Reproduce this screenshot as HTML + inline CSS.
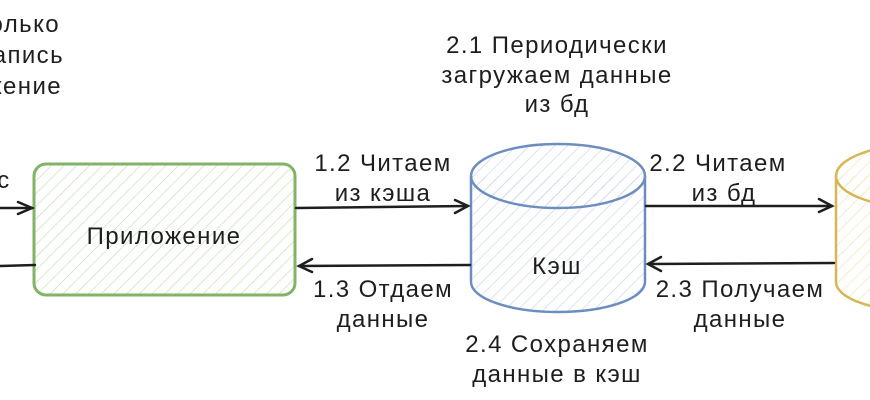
<!DOCTYPE html>
<html><head><meta charset="utf-8"><style>
html,body{margin:0;padding:0;background:#fff;}
svg{display:block;}
text{font-family:"Liberation Sans","DejaVu Sans",sans-serif;font-size:24px;letter-spacing:1.4px;fill:#1e1e1e;text-anchor:middle;}
</style></head><body>
<svg width="870" height="400" viewBox="0 0 870 400" xmlns="http://www.w3.org/2000/svg">
<defs>
<pattern id="hg" width="9" height="9" patternUnits="userSpaceOnUse" patternTransform="rotate(45)">
<line x1="0" y1="0" x2="0" y2="9" stroke="#b9e0a5" stroke-width="1.2"/></pattern>
<pattern id="hb" width="9" height="9" patternUnits="userSpaceOnUse" patternTransform="rotate(45)">
<line x1="0" y1="0" x2="0" y2="9" stroke="#c3d0ec" stroke-width="1.2"/></pattern>
<pattern id="hy" width="9" height="9" patternUnits="userSpaceOnUse" patternTransform="rotate(45)">
<line x1="0" y1="0" x2="0" y2="9" stroke="#f3dfa8" stroke-width="1.2"/></pattern>
</defs>
<text x="60" y="32" style="text-anchor:end">Только</text>
<text x="64" y="63" style="text-anchor:end">запись</text>
<text x="62" y="94" style="text-anchor:end">Изжение</text>
<text x="4" y="188">с</text>
<rect x="34" y="164" width="261" height="131" rx="12" fill="url(#hg)" stroke="#82b366" stroke-width="3"/>
<text x="164" y="244">Приложение</text>
<path d="M471 176 L471 282 A87 30 0 0 0 645 282 L645 176" fill="url(#hb)" stroke="#6c8ebf" stroke-width="2.5"/>
<ellipse cx="558" cy="176" rx="87" ry="32" fill="url(#hb)" stroke="#6c8ebf" stroke-width="2.5"/>
<text x="557" y="274">Кэш</text>
<path d="M836 176 L836 282 A87 30 0 0 0 1010 282 L1010 176" fill="url(#hy)" stroke="#d6b656" stroke-width="2.5"/>
<ellipse cx="923" cy="176" rx="87" ry="32" fill="url(#hy)" stroke="#d6b656" stroke-width="2.5"/>
<g stroke="#1e1e1e" stroke-width="2.5" fill="none" stroke-linecap="round">
<line x1="0" y1="208" x2="32" y2="208"/><path d="M18 202 L32 208 L18 214"/>
<line x1="0" y1="266" x2="35" y2="265"/>
<line x1="296" y1="208" x2="468" y2="206"/><path d="M455 200 L468 206 L455 213"/>
<line x1="470" y1="265" x2="299" y2="266"/><path d="M312 259 L299 266 L312 272"/>
<line x1="646" y1="206" x2="832" y2="206"/><path d="M819 199 L832 206 L819 212"/>
<line x1="834" y1="263" x2="648" y2="264"/><path d="M661 257 L648 264 L661 271"/>
</g>
<text x="383" y="171">1.2 Читаем</text>
<text x="383" y="201">из кэша</text>
<text x="383" y="297">1.3 Отдаем</text>
<text x="383" y="327">данные</text>
<text x="557" y="53">2.1 Периодически</text>
<text x="557" y="83">загружаем данные</text>
<text x="557" y="112">из бд</text>
<text x="718" y="171">2.2 Читаем</text>
<text x="724" y="201">из бд</text>
<text x="740" y="297">2.3 Получаем</text>
<text x="740" y="327">данные</text>
<text x="557" y="352">2.4 Сохраняем</text>
<text x="557" y="382">данные в кэш</text>
</svg>
</body></html>
